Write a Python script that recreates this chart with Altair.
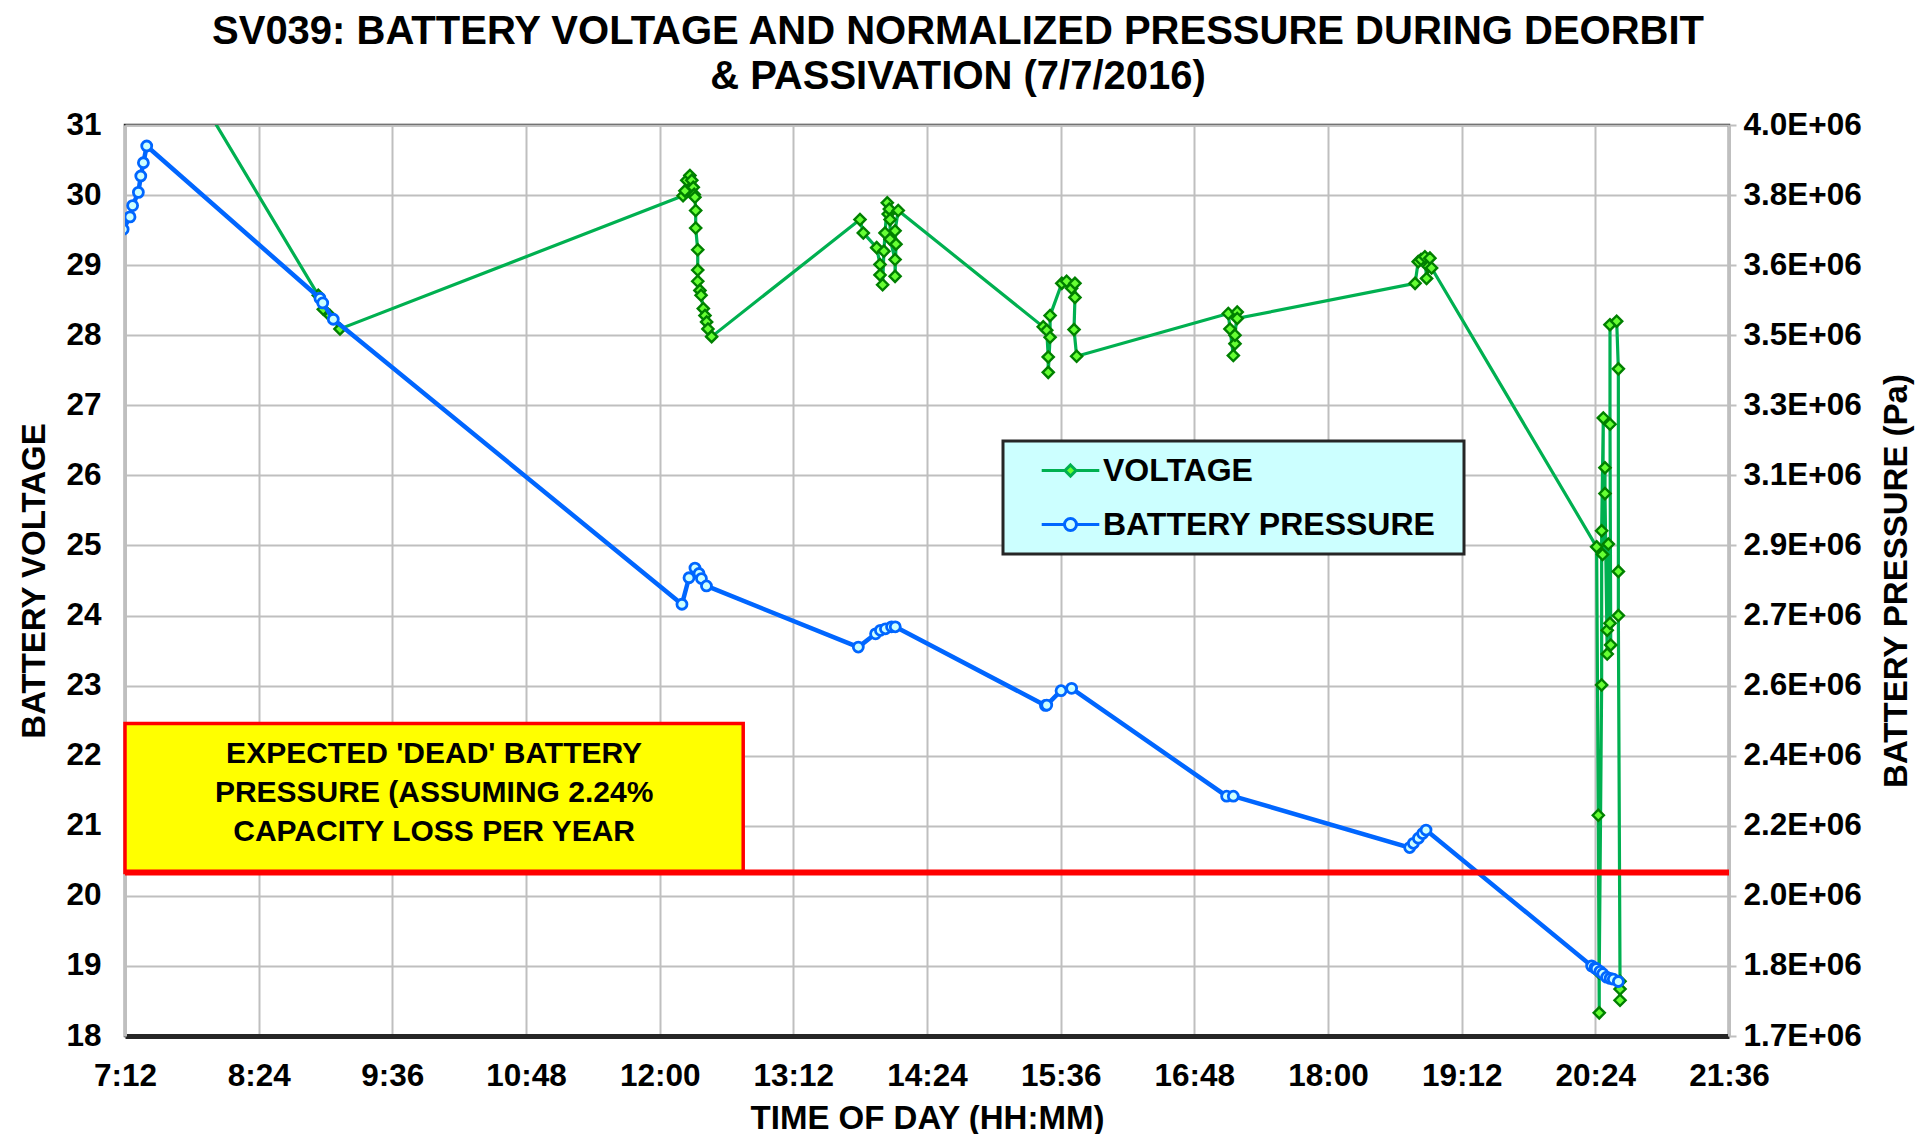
import altair as alt
import pandas as pd

FONT = "Liberation Sans"

TITLE_LINES = ["SV039: BATTERY VOLTAGE AND NORMALIZED PRESSURE DURING DEORBIT",
               "& PASSIVATION (7/7/2016)"]
SERIES = ["VOLTAGE", "BATTERY PRESSURE"]

# time of day in minutes since midnight
volt_time = [432.0, 536.1, 538.8, 542.4, 547.8,
             732.6, 733.6, 734.6, 736.3, 737.3, 738.1, 738.6, 739.0, 739.4, 739.4,
             740.5, 740.5, 740.5, 741.7, 742.3, 743.5, 744.4, 745.3, 746.0, 748.0,
             827.9, 829.7, 836.9, 838.7, 838.7, 840.1, 840.8, 841.4, 842.6, 843.1,
             843.7, 844.1, 844.1, 846.8, 846.8, 847.3, 846.8, 848.5,
             926.6, 928.5, 929.3, 929.3, 930.3, 930.3, 936.6, 939.2, 941.9, 943.7,
             943.7, 943.2, 944.6,
             1026.3, 1027.2, 1029.0, 1029.9, 1029.9, 1031.1, 1031.1,
             1126.9, 1128.6, 1130.1, 1132.2, 1133.1, 1134.0, 1134.9, 1135.8,
             1224.7, 1225.6, 1226.1, 1226.1, 1227.4, 1227.4, 1228.3, 1227.9, 1229.2,
             1229.2, 1230.4, 1230.4, 1231.0, 1231.9, 1232.3, 1231.9, 1231.9, 1235.5,
             1236.4, 1236.4, 1236.4, 1237.3, 1237.3, 1237.3]
volt_value = [33.18, 28.57, 28.37, 28.28, 28.09,
              29.99, 30.06, 30.21, 30.28, 30.21, 30.11, 30.01, 29.97, 29.78, 29.53,
              29.22, 28.93, 28.77, 28.64, 28.57, 28.38, 28.28, 28.19, 28.09, 27.98,
              29.65, 29.46, 29.25, 29.01, 28.86, 28.72, 29.20, 29.46, 29.89, 29.73,
              29.80, 29.65, 29.37, 29.08, 28.84, 29.30, 29.49, 29.78,
              28.12, 28.07, 27.69, 27.47, 27.97, 28.28, 28.74, 28.77, 28.67, 28.74,
              28.54, 28.08, 27.70,
              28.31, 28.09, 27.71, 27.88, 28.00, 28.33, 28.24,
              28.74, 29.05, 29.08, 29.12, 28.81, 28.98, 29.10, 28.96,
              24.98, 21.15, 18.33, 18.90, 23.01, 25.21, 26.82, 24.87, 26.11,
              25.74, 23.45, 23.79, 25.02, 23.89, 23.58, 26.73, 28.15, 28.20,
              27.52, 24.63, 24.00, 18.78, 18.67, 18.51]

pres_time = [431.0, 434.7, 436.1, 439.2, 440.5, 441.9, 443.7, 537.0, 538.5, 544.2,
             732.0, 735.8, 739.0, 741.2, 742.5, 745.2,
             827.0, 836.3, 838.9, 841.6, 844.9, 846.9,
             927.8, 928.5, 936.2, 941.9,
             1025.4, 1029.0,
             1124.0, 1126.0, 1128.7, 1131.0, 1132.8,
             1222.0, 1223.8, 1224.5, 1226.5, 1228.0, 1230.1, 1232.0, 1233.7, 1236.4]
pres_value = [3732000, 3764000, 3793000, 3827000, 3869000, 3903000, 3946000, 3555000, 3543000, 3501000,
              2769000, 2837000, 2862000, 2848000, 2835000, 2816000,
              2659000, 2693000, 2702000, 2706000, 2711000, 2711000,
              2509000, 2510000, 2547000, 2553000,
              2276000, 2276000,
              2144000, 2155000, 2168000, 2180000, 2189000,
              1840000, 1835000, 1833000, 1826000, 1820000, 1811000, 1808000, 1806000, 1800000]

x_ticks = [432, 504, 576, 648, 720, 792, 864, 936, 1008, 1080, 1152, 1224, 1296]
volt_ticks = [18, 19, 20, 21, 22, 23, 24, 25, 26, 27, 28, 29, 30, 31]
pres_ticks = [1660000, 1840000, 2020000, 2200000, 2380000, 2560000, 2740000,
              2920000, 3100000, 3280000, 3460000, 3640000, 3820000, 4000000]

dead_pressure = [2080000]
box_time = [432, 765]
box_pressure = [2080000, 2463000]
box_text = ["EXPECTED 'DEAD' BATTERY", "PRESSURE (ASSUMING 2.24%", "CAPACITY LOSS PER YEAR"]

# ---------------------------------------------------------------
volt_df = pd.DataFrame({"t": volt_time, "v": volt_value, "i": range(len(volt_time))})
pres_df = pd.DataFrame({"t": pres_time, "p": pres_value, "i": range(len(pres_time))})
dead_df = pd.DataFrame({"p": dead_pressure})
box_df = pd.DataFrame({"t0": [box_time[0]], "t1": [box_time[1]],
                       "p0": [box_pressure[0]], "p1": [box_pressure[1]],
                       "tc": [sum(box_time) / 2], "pc": [sum(box_pressure) / 2]})
legend_df = pd.DataFrame({"series": SERIES})

xscale = alt.Scale(domain=[432, 1296], nice=False, zero=False)
vscale = alt.Scale(domain=[18, 31], nice=False, zero=False)
pscale = alt.Scale(domain=[1660000, 4000000], nice=False, zero=False)

label_common = dict(labelFont=FONT, labelFontSize=31.5, labelFontWeight="bold", labelColor="black",
                    titleFont=FONT, titleFontSize=33, titleFontWeight="bold", titleColor="black",
                    labelOverlap=False, labelFlush=False)

x_axis = alt.Axis(
    values=x_ticks,
    labelExpr="floor(datum.value/60) + ':' + (datum.value % 60 < 10 ? '0' : '') + (datum.value % 60)",
    title="TIME OF DAY (HH:MM)", titleY=82, titleBaseline="middle", labelPadding=24, ticks=False,
    domainColor="#262626", domainWidth=5, grid=True, gridColor="#BFBFBF", gridWidth=2,
    **label_common)

v_axis = alt.Axis(values=volt_ticks, format="d", title="BATTERY VOLTAGE", ticks=False, labelPadding=24,
                  titleX=-91, titleBaseline="middle", domainColor="#BFBFBF", domainWidth=3, grid=True,
                  gridColor="#BFBFBF", gridWidth=2, **label_common)
p_axis = alt.Axis(orient="right", values=pres_ticks,
                  labelExpr="upper(replace(format(datum.value, '.1e'), 'e+', 'E+0'))",
                  title="BATTERY PRESSURE (Pa)", titleAngle=270, titleBaseline="middle",
                  titleX=167, ticks=True, tickColor="#BFBFBF", tickSize=7, tickWidth=2,
                  labelPadding=7, domainColor="#BFBFBF", domainWidth=3, grid=False, **label_common)

diamond_key = "M-1.92,0L-0.37,0M0.37,0L1.92,0M0,-0.37L0.37,0L0,0.37L-0.37,0Z"
circle_key = "M-1.92,0L-0.4,0M0.4,0L1.92,0M0.4,0A0.4,0.4,0,1,1,-0.4,0A0.4,0.4,0,1,1,0.4,0Z"

v_line = alt.Chart(volt_df).mark_line(color="#00B050", strokeWidth=3.2, clip=True).encode(
    x=alt.X("t:Q", scale=xscale, axis=x_axis),
    y=alt.Y("v:Q", scale=vscale, axis=v_axis),
    order=alt.Order("i:Q"))
v_pts = alt.Chart(volt_df).mark_point(shape="diamond", filled=True, fill="#66FF33", stroke="#008000",
                                      strokeWidth=2.4, size=125, opacity=1, clip=True).encode(
    x=alt.X("t:Q", scale=xscale),
    y=alt.Y("v:Q", scale=vscale))
legend_layer = alt.Chart(legend_df).mark_point(filled=True, size=900, opacity=1, clip=True,
                                               strokeWidth=3).encode(
    x=alt.value(-3000), y=alt.value(-3000),
    shape=alt.Shape("series:N", scale=alt.Scale(domain=SERIES, range=[diamond_key, circle_key]),
                    legend=alt.Legend(title="M", titleOpacity=0, titleOrient="right",
                                      titleFontSize=19, titlePadding=0,
                                      orient="none", legendX=878, legendY=316,
                                      fillColor="#CCFFFF", strokeColor="#262626", padding=13,
                                      symbolSize=900, symbolStrokeWidth=3, symbolOffset=38,
                                      labelOffset=16, labelFont=FONT, labelFontSize=32,
                                      labelFontWeight="bold", labelColor="black", rowPadding=21,
                                      labelLimit=0)),
    fill=alt.Fill("series:N", scale=alt.Scale(domain=SERIES, range=["#66FF33", "#CCFFFF"])),
    stroke=alt.Stroke("series:N", scale=alt.Scale(domain=SERIES, range=["#00B050", "#0066FF"])))

left = alt.layer(v_line, v_pts, legend_layer)

p_line = alt.Chart(pres_df).mark_line(color="#0066FF", strokeWidth=4.5, clip=True).encode(
    x=alt.X("t:Q", scale=xscale),
    y=alt.Y("p:Q", scale=pscale, axis=p_axis),
    order=alt.Order("i:Q"))
p_pts = alt.Chart(pres_df).mark_point(shape="circle", filled=True, fill="#CCFFFF", stroke="#0066FF",
                                      strokeWidth=2.8, size=100, opacity=1, clip=True).encode(
    x=alt.X("t:Q", scale=xscale),
    y=alt.Y("p:Q", scale=pscale))
box = alt.Chart(box_df).mark_rect(fill="#FFFF00", stroke="#FF0000", strokeWidth=3.5).encode(
    x=alt.X("t0:Q", scale=xscale), x2="t1:Q",
    y=alt.Y("p0:Q", scale=pscale), y2="p1:Q")
box_label = alt.Chart(box_df).mark_text(text=box_text, font=FONT, fontSize=30, fontWeight="bold",
                                        color="black", lineHeight=39, align="center",
                                        baseline="middle", dy=-44).encode(
    x=alt.X("tc:Q", scale=xscale),
    y=alt.Y("pc:Q", scale=pscale))
dead_rule = alt.Chart(dead_df).mark_rule(color="#FF0000", strokeWidth=6).encode(
    y=alt.Y("p:Q", scale=pscale))

right = alt.layer(p_line, p_pts, box, box_label, dead_rule)

chart = alt.layer(left, right).resolve_scale(y="independent").properties(
    width=1604, height=911,
    autosize=alt.AutoSizeParams(type="none"),
    padding={"left": 117, "top": 117, "right": 186, "bottom": 98},
    title=alt.TitleParams(text=TITLE_LINES, font=FONT, fontSize=40, fontWeight="bold", color="black",
                          anchor="middle", frame="group", dx=31, lineHeight=45, offset=12),
    background="white",
).configure_view(stroke="#262626", strokeWidth=2.5).configure_legend(strokeWidth=3)

chart.save("out.html", embed_options={"renderer": "svg", "actions": False})
